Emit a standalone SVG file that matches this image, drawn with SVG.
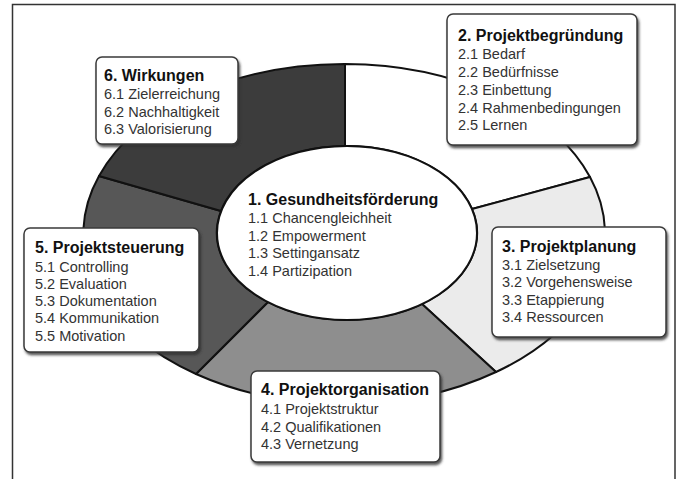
<svg xmlns="http://www.w3.org/2000/svg" width="682" height="479" viewBox="0 0 682 479">
<style>
.seg{stroke:#111;stroke-width:2;stroke-linejoin:round}
.box{fill:#fff;stroke:#3a3a3a;stroke-width:1.5;filter:url(#sh)}
.t{font-family:"Liberation Sans",Arial,sans-serif;font-size:16px;font-weight:bold;fill:#111}
.i{font-family:"Liberation Sans",Arial,sans-serif;font-size:14.5px;fill:#333}
</style>
<defs>
<filter id="sh" x="-10%" y="-10%" width="130%" height="130%">
<feDropShadow dx="1.5" dy="2.5" stdDeviation="1.2" flood-color="#333" flood-opacity="0.8"/>
</filter>
</defs>
<rect width="682" height="479" fill="#fff"/>
<path d="M12.5,479 V4.5 H675 V479" fill="none" stroke="#333" stroke-width="1.5"/>
<g id="connectors">
<path id="seg2" class="seg" fill="#ffffff" d="M345,64 A261,170 0 0 1 590,177 L472,209 A130,87 0 0 0 345,146 Z"/>
<path id="seg3" class="seg" fill="#ebebeb" d="M590,177 A261,170 0 0 1 496,372 L422,304 A130,87 0 0 0 472,209 Z"/>
<path id="seg4" class="seg" fill="#8e8e8e" d="M496,372 A261,170 0 0 1 196,374 L268,302 A130,87 0 0 0 422,304 Z"/>
<path id="seg5" class="seg" fill="#575757" d="M196,374 A261,170 0 0 1 99,176 L221,211 A130,87 0 0 0 268,302 Z"/>
<path id="seg6" class="seg" fill="#3c3c3c" d="M99,176 A261,170 0 0 1 345,64 L345,146 A130,87 0 0 0 221,211 Z"/>
</g>
<g id="node1">
<ellipse cx="347" cy="233" rx="130" ry="87" fill="#fff" stroke="#111" stroke-width="2"/>
<text class="t" x="248" y="205">1. Gesundheitsförderung</text>
<text class="i" x="248" y="223">1.1 Chancengleichheit</text>
<text class="i" x="248" y="241">1.2 Empowerment</text>
<text class="i" x="248" y="258">1.3 Settingansatz</text>
<text class="i" x="248" y="276">1.4 Partizipation</text>
</g>
<g id="node2">
<rect class="box" x="447" y="14" width="190" height="131" rx="6"/>
<text class="t" x="458" y="41">2. Projektbegründung</text>
<text class="i" x="458" y="59">2.1 Bedarf</text>
<text class="i" x="458" y="77">2.2 Bedürfnisse</text>
<text class="i" x="458" y="95">2.3 Einbettung</text>
<text class="i" x="458" y="113">2.4 Rahmenbedingungen</text>
<text class="i" x="458" y="130">2.5 Lernen</text>
</g>
<g id="node3">
<rect class="box" x="492" y="227" width="174" height="110" rx="6"/>
<text class="t" x="502" y="252">3. Projektplanung</text>
<text class="i" x="502" y="270">3.1 Zielsetzung</text>
<text class="i" x="502" y="287">3.2 Vorgehensweise</text>
<text class="i" x="502" y="305">3.3 Etappierung</text>
<text class="i" x="502" y="322">3.4 Ressourcen</text>
</g>
<g id="node4">
<rect class="box" x="251" y="371" width="189" height="91" rx="6"/>
<text class="t" x="261" y="395">4. Projektorganisation</text>
<text class="i" x="261" y="414">4.1 Projektstruktur</text>
<text class="i" x="261" y="432">4.2 Qualifikationen</text>
<text class="i" x="261" y="449">4.3 Vernetzung</text>
</g>
<g id="node5">
<rect class="box" x="24" y="228" width="175" height="124" rx="6"/>
<text class="t" x="35" y="253">5. Projektsteuerung</text>
<text class="i" x="35" y="272">5.1 Controlling</text>
<text class="i" x="35" y="289">5.2 Evaluation</text>
<text class="i" x="35" y="306">5.3 Dokumentation</text>
<text class="i" x="35" y="323">5.4 Kommunikation</text>
<text class="i" x="35" y="341">5.5 Motivation</text>
</g>
<g id="node6">
<rect class="box" x="96" y="57" width="142" height="87" rx="6"/>
<text class="t" x="104" y="81">6. Wirkungen</text>
<text class="i" x="104" y="99">6.1 Zielerreichung</text>
<text class="i" x="104" y="117">6.2 Nachhaltigkeit</text>
<text class="i" x="104" y="134">6.3 Valorisierung</text>
</g>
</svg>
